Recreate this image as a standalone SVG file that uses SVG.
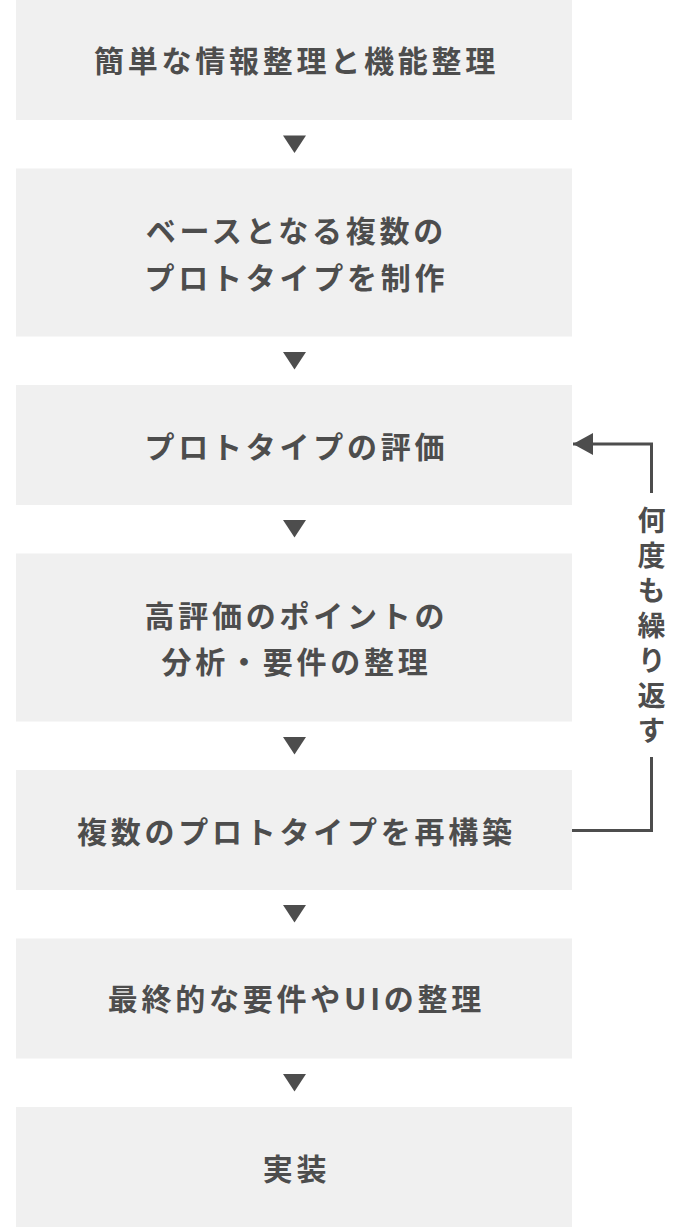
<svg xmlns="http://www.w3.org/2000/svg" width="686" height="1227" viewBox="0 0 686 1227">
<style>
.box{fill:#f0f0f0}
.t{font-family:"Noto Sans CJK JP","Noto Sans CJK SC",sans-serif;font-size:30px;font-weight:700;fill:#4d4d4d;text-anchor:middle;letter-spacing:3.75px}
.v{font-family:"Noto Sans CJK JP","Noto Sans CJK SC",sans-serif;font-size:28px;font-weight:700;fill:#4d4d4d;text-anchor:middle;writing-mode:vertical-rl;letter-spacing:7px}
.tri{fill:#4d4d4d}
.ln{fill:none;stroke:#4d4d4d;stroke-width:3}
</style>
<defs>
<marker id="ah" markerWidth="20" markerHeight="22" refX="20" refY="11" orient="auto" markerUnits="userSpaceOnUse">
<path d="M0,0 L20,11 L0,22 Z" fill="#4d4d4d"/>
</marker>
</defs>
<rect width="686" height="1227" fill="#ffffff"/>
<g id="n1"><rect class="box" x="16" y="0" width="556" height="120"/><text class="t" x="296.4" y="72.4">簡単な情報整理と機能整理</text></g>
<g id="n2"><rect class="box" x="16" y="168.5" width="556" height="168"/><text class="t" x="296.4" y="242.4">ベースとなる複数の</text><text class="t" x="296.4" y="289.4">プロトタイプを制作</text></g>
<g id="n3"><rect class="box" x="16" y="385" width="556" height="120"/><text class="t" x="296.4" y="458">プロトタイプの評価</text></g>
<g id="n4"><rect class="box" x="16" y="553.5" width="556" height="168"/><text class="t" x="296.4" y="627.4">高評価のポイントの</text><text class="t" x="296.4" y="673.4">分析・要件の整理</text></g>
<g id="n5"><rect class="box" x="16" y="770" width="556" height="120"/><text class="t" x="296.4" y="843">複数のプロトタイプを再構築</text></g>
<g id="n6"><rect class="box" x="16" y="938.5" width="556" height="120"/><text class="t" x="296.4" y="1010.4">最終的な要件やUIの整理</text></g>
<g id="n7"><rect class="box" x="16" y="1107" width="556" height="120"/><text class="t" x="296.4" y="1180">実装</text></g>
<g id="connectors">
<polygon class="tri" points="283,135.5 306,135.5 294.5,153"/>
<polygon class="tri" points="283,352 306,352 294.5,369.5"/>
<polygon class="tri" points="283,520 306,520 294.5,537.5"/>
<polygon class="tri" points="283,737 306,737 294.5,754.5"/>
<polygon class="tri" points="283,905 306,905 294.5,922.5"/>
<polygon class="tri" points="283,1074 306,1074 294.5,1091.5"/>
<polyline class="ln" points="572,830.5 651.5,830.5 651.5,757"/>
<polyline class="ln" points="651.5,493 651.5,444 573,444" marker-end="url(#ah)"/>
<text class="v" x="651.5" y="628.5">何度も繰り返す</text>
</g>
</svg>
